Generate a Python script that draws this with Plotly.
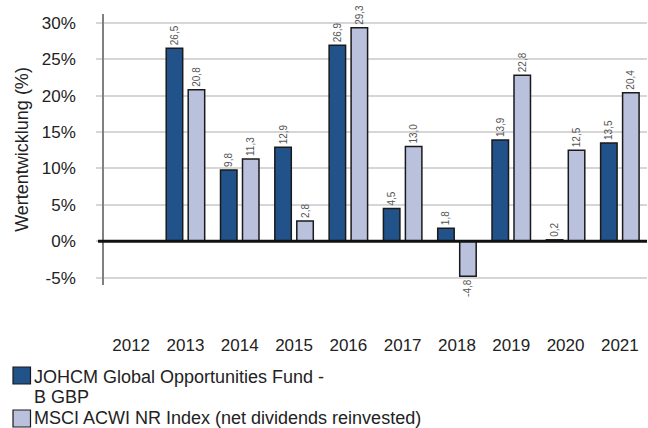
import plotly.graph_objects as go

years = ["2012", "2013", "2014", "2015", "2016", "2017", "2018", "2019", "2020", "2021"]
fund_name = "JOHCM Global Opportunities Fund -"
fund_name_2 = "B GBP"
index_name = "MSCI ACWI NR Index (net dividends reinvested)"
fund_values = [None, 26.5, 9.8, 12.9, 26.9, 4.5, 1.8, 13.9, 0.2, 13.5]
index_values = [None, 20.8, 11.3, 2.8, 29.3, 13.0, -4.8, 22.8, 12.5, 20.4]
y_ticks = [-5, 0, 5, 10, 15, 20, 25, 30]


def fmt(v):
    return "" if v is None else f"{v:.1f}".replace(".", ",")


FONT = "Liberation Sans, Arial, sans-serif"
FUND_COLOR = "#22528A"
INDEX_COLOR = "#B9C1DC"
EDGE = "#1a1a1a"

W, H = 648, 428
L, R, T, B = 104, 1, 14, 143
PW, PH = W - L - R, H - T - B


def px(x):
    return (x - L) / PW


def py(y):
    return (H - B - y) / PH


fig = go.Figure()
for name, vals, col in [(fund_name + " " + fund_name_2, fund_values, FUND_COLOR),
                        (index_name, index_values, INDEX_COLOR)]:
    fig.add_trace(go.Bar(
        x=years, y=vals, name=name,
        marker=dict(color=col, line=dict(color=EDGE, width=1.5)),
        text=[fmt(v) for v in vals], textposition="outside", textangle=-90,
        textfont=dict(size=10, color="#555555", family=FONT),
        constraintext="none", cliponaxis=False, showlegend=False,
    ))

fig.add_shape(type="line", xref="paper", yref="y", x0=-0.011, x1=1, y0=0, y1=0,
              line=dict(color="#111111", width=3), layer="above")

# legend (drawn manually to match the reference layout)
legend_items = [(FUND_COLOR, 367, [(fund_name, 377), (fund_name_2, 397)]),
                (INDEX_COLOR, 410, [(index_name, 418)])]
for col, top, lines in legend_items:
    fig.add_shape(type="rect", xref="paper", yref="paper",
                  x0=px(13), x1=px(30.5), y0=py(top), y1=py(top + 17),
                  fillcolor=col, line=dict(color=EDGE, width=1.2), layer="above")
    for txt, yc in lines:
        fig.add_annotation(xref="paper", yref="paper", x=px(32), y=py(yc),
                           xanchor="left", yanchor="middle", text=txt, showarrow=False,
                           font=dict(size=18, family=FONT, color="#222222"))

fig.update_layout(
    width=W, height=H,
    margin=dict(l=L, r=R, t=T, b=B),
    paper_bgcolor="white", plot_bgcolor="white",
    font=dict(family=FONT, color="#222222", size=17),
    barmode="group", bargap=0.19, bargroupgap=0.25,
    showlegend=False,
    xaxis=dict(
        type="category", categoryorder="array", categoryarray=years,
        showgrid=False, showline=False, ticks="", zeroline=False,
        tickfont=dict(size=17), ticklabelstandoff=48, tickangle=0,
    ),
    yaxis=dict(
        range=[-6.0, 31.2], tickvals=y_ticks,
        ticktext=[f"{t}%" for t in y_ticks],
        showgrid=True, gridcolor="#d6d6d6", gridwidth=1.5,
        showline=True, linecolor="#808080", linewidth=1.5,
        ticks="outside", ticklen=6, tickcolor="#d6d6d6", tickwidth=1.5,
        zeroline=False, tickfont=dict(size=17), ticklabelstandoff=17,
        title=dict(text="Wertentwicklung (%)", font=dict(size=18), standoff=9),
    ),
)

fig.write_html("out.html",
               config={"displayModeBar": False},
               post_script="document.body.style.margin='0px';document.body.style.overflow='hidden';")
